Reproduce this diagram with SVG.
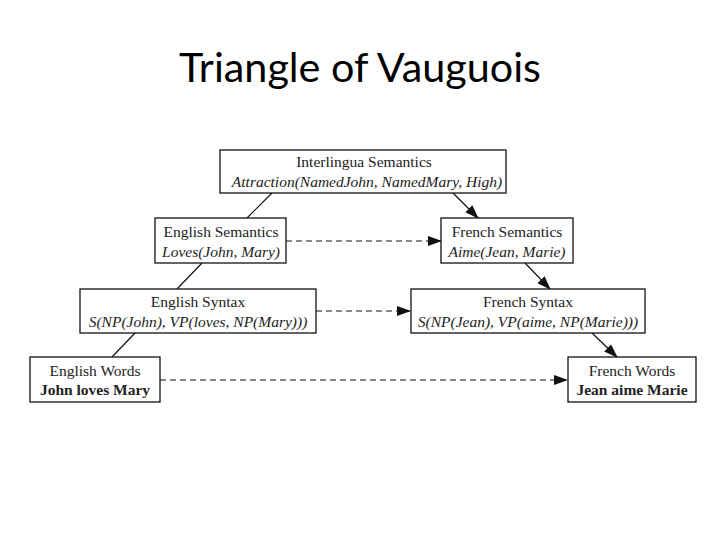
<svg xmlns="http://www.w3.org/2000/svg" width="720" height="540" viewBox="0 0 720 540">
<defs>
<marker id="ah" markerWidth="14" markerHeight="10" refX="13" refY="5" orient="auto" markerUnits="userSpaceOnUse">
<path d="M0,0 L14,5 L0,10 Z" fill="#111"/>
</marker>
<style>
.box{fill:#fff;stroke:#111;stroke-width:1.3}
.t{font-family:"Liberation Serif","Times New Roman",serif;font-size:15.5px;fill:#222;text-anchor:middle}
.i{font-style:italic}
.b{font-weight:bold}
.ln{stroke:#111;stroke-width:1.2;fill:none}
.da{stroke:#111;stroke-width:1.1;fill:none;stroke-dasharray:6,4}
.title{font-family:Lato,"Open Sans","Liberation Sans",sans-serif;font-size:40px;fill:#000;text-anchor:middle}
</style>
</defs>
<rect width="720" height="540" fill="#fff"/>
<text class="title" x="360" y="82" textLength="362" lengthAdjust="spacingAndGlyphs">Triangle of Vauguois</text>

<g id="connectors">
<line class="ln" x1="272" y1="193" x2="247" y2="218"/>
<line class="ln" x1="453" y1="193" x2="478" y2="218" marker-end="url(#ah)"/>
<line class="ln" x1="202" y1="263" x2="177" y2="289"/>
<line class="ln" x1="525" y1="263" x2="550" y2="289" marker-end="url(#ah)"/>
<line class="ln" x1="135" y1="333" x2="112" y2="357"/>
<line class="ln" x1="592" y1="333" x2="617" y2="357" marker-end="url(#ah)"/>
<line class="da" x1="286" y1="241" x2="441" y2="241" marker-end="url(#ah)"/>
<line class="da" x1="316" y1="311" x2="410" y2="311" marker-end="url(#ah)"/>
<line class="da" x1="160" y1="380" x2="567" y2="380" marker-end="url(#ah)"/>
</g>

<g id="interlingua">
<rect class="box" x="220" y="150" width="286" height="43"/>
<text class="t" x="364" y="167">Interlingua Semantics</text>
<text class="t i" x="367" y="187">Attraction(NamedJohn, NamedMary, High)</text>
</g>

<g id="english-semantics">
<rect class="box" x="155" y="218" width="131" height="45"/>
<text class="t" x="221" y="237">English Semantics</text>
<text class="t i" x="221" y="257">Loves(John, Mary)</text>
</g>

<g id="french-semantics">
<rect class="box" x="441" y="218" width="132" height="45"/>
<text class="t" x="507" y="237">French Semantics</text>
<text class="t i" x="507" y="257">Aime(Jean, Marie)</text>
</g>

<g id="english-syntax">
<rect class="box" x="80" y="289" width="236" height="44"/>
<text class="t" x="198" y="307">English Syntax</text>
<text class="t i" x="198" y="327">S(NP(John), VP(loves, NP(Mary)))</text>
</g>

<g id="french-syntax">
<rect class="box" x="411" y="289" width="234" height="44"/>
<text class="t" x="528" y="307">French Syntax</text>
<text class="t i" x="528" y="327">S(NP(Jean), VP(aime, NP(Marie)))</text>
</g>

<g id="english-words">
<rect class="box" x="30" y="357" width="130" height="45"/>
<text class="t" x="95" y="376">English Words</text>
<text class="t b" x="95" y="395">John loves Mary</text>
</g>

<g id="french-words">
<rect class="box" x="568" y="357" width="128" height="45"/>
<text class="t" x="632" y="376">French Words</text>
<text class="t b" x="632" y="395">Jean aime Marie</text>
</g>
</svg>
